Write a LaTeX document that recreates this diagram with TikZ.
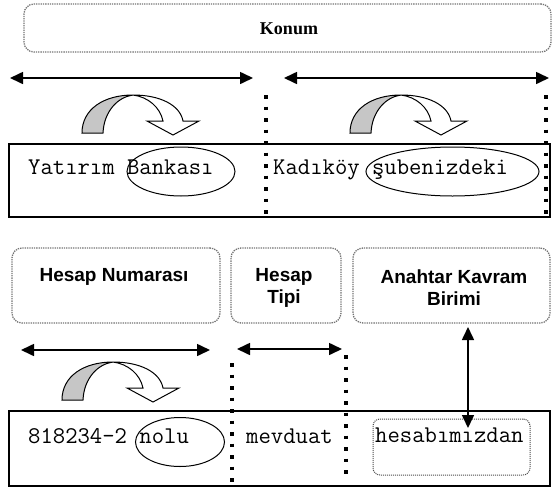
\documentclass[tikz,border=0pt]{standalone}
\usepackage{fontspec}
\setsansfont{Liberation Sans}
\newfontfamily\konumfont{Liberation Serif}
\usetikzlibrary{arrows.meta,shapes.geometric}

\tikzset{
  kutu/.style={draw=black!55, densely dotted, line width=1.3pt, rounded corners=10pt, inner sep=0pt},
  baslik/.style={font=\sffamily\bfseries\fontsize{19}{22}\selectfont, align=center, inner sep=0pt},
  yazi/.style={font=\ttfamily\fontsize{24}{26}\selectfont, anchor=mid west, inner sep=0pt},
  cerceve/.style={draw, line width=1.3pt},
  oval/.style={draw, ellipse, line width=1pt, inner sep=0pt},
  ayrac/.style={line width=3.5pt, dash pattern=on 3.5pt off 8pt},
  ciftok/.style={line width=1.6pt, {Triangle[length=13pt,width=12pt]}-{Triangle[length=13pt,width=12pt]}},
  donenok/.pic={
    \draw[fill=gray!45, line width=1pt] (0,0) .. controls (0,-24) and (22,-38) .. (51,-38)
      .. controls (36,-36) and (22,-22) .. (21,0) -- cycle;
    \draw[fill=white, line width=1pt] (51,-38) .. controls (78,-38) and (98,-28) .. (101,-12)
      -- (117,-12) -- (91,2) -- (65,-12) -- (81,-12) .. controls (78,-26) and (66,-36) .. (51,-38) -- cycle;
  }
}

\begin{document}
\begin{tikzpicture}[x=1pt,y=-1pt]
    \useasboundingbox (0,0) rectangle (552,488);

    % Konum
    \node[kutu, minimum width=527, minimum height=48] (konum) at (287.5,28) {};
    \node[font=\konumfont\bfseries\fontsize{18}{20}\selectfont, inner sep=0pt] (tKonum) at (289,29) {Konum};

    \coordinate (a1l) at (10,78);
    \coordinate (a1r) at (253,78);
    \coordinate (a2l) at (284,78);
    \coordinate (a2r) at (549,78);
    \draw[ciftok] (a1l) -- (a1r);
    \draw[ciftok] (a2l) -- (a2r);

    \pic at (82,133) {donenok};
    \pic at (350,133) {donenok};

    % ilk cumle
    \draw[cerceve] (9,144) rectangle (550,217);
    \node[yazi] (yatirim) at (28,172) {Yatırım Bankası};
    \node[yazi] (kadikoy) at (273,172) {Kadıköy şubenizdeki};
    \node[oval, minimum width=108, minimum height=49] (ovBanka) at (181,171.5) {};
    \node[oval, minimum width=173, minimum height=49] (ovSube) at (452.5,171.5) {};
    \draw[ayrac] (266,95) -- (266,214);
    \draw[ayrac] (546,95) -- (546,214);

    % Hesap kutulari
    \node[kutu, minimum width=208, minimum height=75] (hNum) at (116,285.5) {};
    \node[kutu, minimum width=110, minimum height=75] (hTip) at (286,285.5) {};
    \node[kutu, minimum width=197, minimum height=75] (hAnahtar) at (451.5,285.5) {};
    \node[baslik] (tNum) at (114,277) {Hesap Numarası};
    \node[baslik] (tTip) at (284,288) {Hesap\\Tipi};
    \node[baslik] (tAnahtar) at (454,288) {Anahtar Kavram\\Birimi};

    \coordinate (a3l) at (21,350);
    \coordinate (a3r) at (210,350);
    \coordinate (a4l) at (237,349);
    \coordinate (a4r) at (342,349);
    \draw[ciftok] (a3l) -- (a3r);
    \draw[ciftok] (a4l) -- (a4r);

    \pic at (62,400) {donenok};

    % ikinci cumle
    \draw[cerceve] (9,411) rectangle (550,486);
    \node[yazi] (numara) at (28,441) {818234-2 nolu};
    \node[yazi] (mevduat) at (246,441) {mevduat};
    \node[oval, minimum width=89, minimum height=49] (ovNolu) at (180,442) {};
    \node[kutu, draw=black!70, rounded corners=7pt, line width=1pt, minimum width=157, minimum height=56] (hesap) at (451.5,447) {};
    \node[yazi] (hesabimiz) at (375,440) {hesabımızdan};
    \draw[ayrac] (232,363) -- (232,486);
    \draw[ayrac] (346,355) -- (346,480);

    \coordinate (vUst) at (468,327);
    \coordinate (vAlt) at (468,428);
    \draw[ciftok] (vUst) -- (vAlt);
\end{tikzpicture}
\end{document}
